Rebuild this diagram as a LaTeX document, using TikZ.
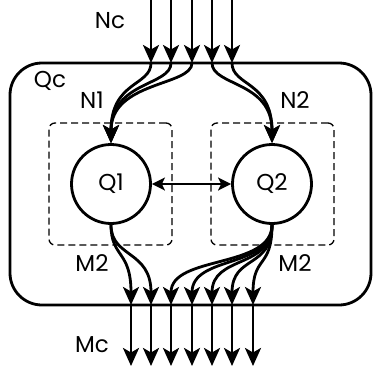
\documentclass[tikz,border=0pt]{standalone}
\usepackage{fontspec}
\setmainfont{Poppins}
\usetikzlibrary{arrows.meta,calc}
\begin{document}
\begin{tikzpicture}[x=1pt,y=-1pt,
  lbl/.style={font=\fontsize{23}{27}\selectfont, inner sep=0pt},
  flow/.style={line width=2.8pt, -{Stealth[length=18pt,width=16pt,inset=4.5pt]}},
  link/.style={line width=2pt, {Stealth[length=13pt,width=13pt,inset=3pt]}-{Stealth[length=13pt,width=13pt,inset=3pt]}},
  queue/.style={circle, draw, line width=2.8pt, minimum size=79pt, inner sep=0pt, font=\fontsize{23}{27}\selectfont},
  zone/.style={draw, dash pattern=on 7pt off 4pt, line width=1.3pt, rounded corners=6pt, minimum width=123pt, minimum height=122pt},
  outer/.style={draw, line width=2.8pt, rounded corners=32pt, minimum width=361pt, minimum height=242pt}
]
\useasboundingbox (0,0) rectangle (374,372);
% outer box
\node[outer] (qcbox) at (190.5,184) {};
% dashed zones
\node[zone] (z1) at (110.5,184) {};
\node[zone] (z2) at (272.5,184) {};
% queues
\node[queue] (Q1) at (111,184) {Q1};
\node[queue] (Q2) at (272,184) {Q2};
% labels
\node[lbl] (nc) at (110,21) {Nc};
\node[lbl] (qc) at (50,81) {Qc};
\node[lbl] (n1) at (92,100) {N1};
\node[lbl] (n2) at (295,100) {N2};
\node[lbl] (m2a) at (92,263) {M2};
\node[lbl] (m2b) at (295,263) {M2};
\node[lbl] (mc) at (92,345) {Mc};
% incoming
\foreach \i/\x in {1/151,2/171,3/192,4/212,5/232} {
  \coordinate (t\i) at (\x,0);
  \coordinate (i\i) at (\x,63);
  \draw[flow] (t\i) -- (i\i);
}
\foreach \i in {1,2,3} {
  \draw[flow] (i\i) .. controls ($(i\i)+(0,23)$) and ($(Q1.north)+(0,-62)$) .. (Q1.north);
}
\foreach \i in {4,5} {
  \draw[flow] (i\i) .. controls ($(i\i)+(0,23)$) and ($(Q2.north)+(0,-62)$) .. (Q2.north);
}
% outgoing
\foreach \i/\x in {1/131,2/151,3/171,4/192,5/212,6/232,7/253} {
  \coordinate (o\i) at (\x,305);
  \coordinate (b\i) at (\x,366);
  \draw[flow] (o\i) -- (b\i);
}
\foreach \i in {1,2} {
  \draw[flow] (Q1.south) .. controls ($(Q1.south)+(0,33)$) and ($(o\i)+(0,-55)$) .. (o\i);
}
\foreach \i in {3,4,5,6,7} {
  \draw[flow] (Q2.south) .. controls ($(Q2.south)+(0,44)$) and ($(o\i)+(0,-50)$) .. (o\i);
}
% link
\draw[link] (Q1) -- (Q2);
\end{tikzpicture}
\end{document}
